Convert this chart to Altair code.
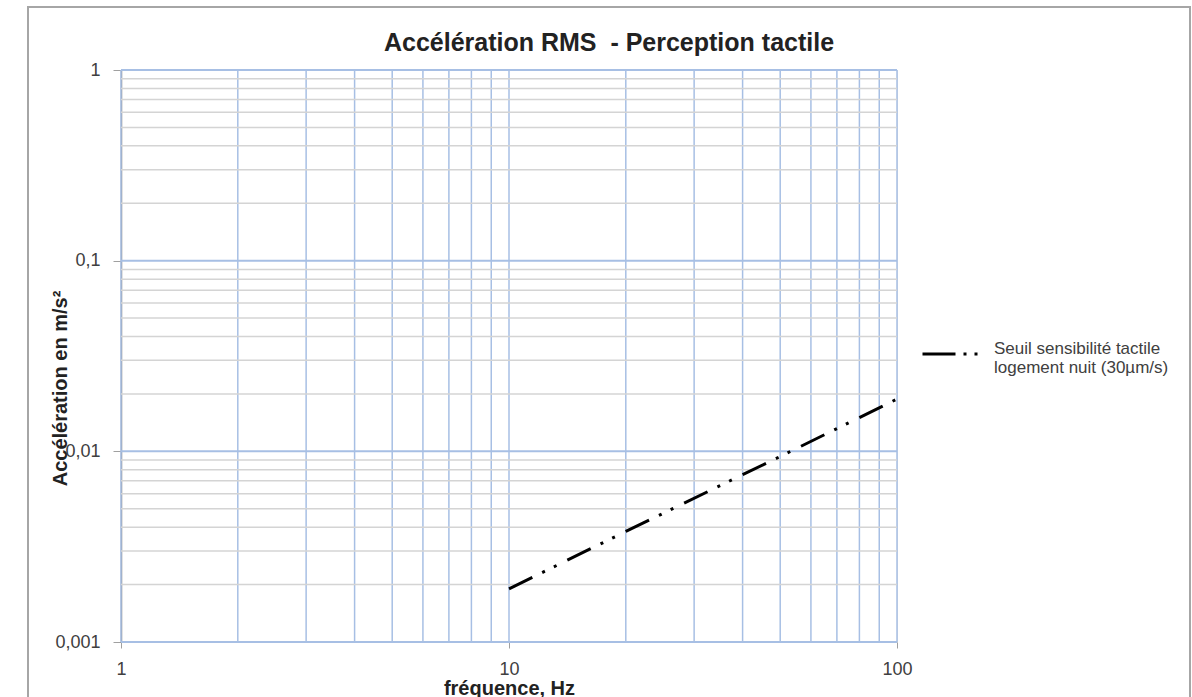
import altair as alt
import pandas as pd

# Series values
freq = [10, 20, 50, 100]
accel = [0.0019, 0.0038, 0.0094, 0.0188]
series_name = "Seuil sensibilité tactile|logement nuit (30µm/s)"

# Axis ticks / grid
x_ticks = [1, 10, 100]
x_grid = [1, 2, 3, 4, 5, 6, 7, 8, 9, 10, 20, 30, 40, 50, 60, 70, 80, 90, 100]
y_ticks = [0.001, 0.01, 0.1, 1]
y_minor = [m * d for d in [0.001, 0.01, 0.1] for m in [2, 3, 4, 5, 6, 7, 8, 9]]

FONT = "Liberation Sans, Arial, sans-serif"
BLUE = "#a7bfe4"
GRAY = "#d4d4d4"

df = pd.DataFrame({"f": freq, "a": accel, "s": [series_name] * len(freq)})

xs = alt.Scale(type="log", domain=[1, 100], nice=False)
ys = alt.Scale(type="log", domain=[0.001, 1], nice=False)

xaxis = alt.Axis(
    values=x_ticks, grid=False, domain=False, ticks=True, tickColor="#a0a0a0",
    tickSize=6, labelPadding=12, labelFontSize=18, labelColor="#404040",
    labelFont=FONT, title="fréquence, Hz", titleFont=FONT, titleFontSize=20,
    titleFontWeight="bold", titleColor="#222222", titleBaseline="middle",
    titleY=46, labelFlush=False,
)
yaxis = alt.Axis(
    values=y_ticks, grid=False, domain=True, domainColor="#8a8a8a",
    domainWidth=1.5, tickColor="#a0a0a0", tickSize=8, labelPadding=13,
    labelFontSize=18, labelColor="#404040", labelFont=FONT,
    labelExpr="replace(format(datum.value, '~g'), '.', ',')",
    title="Accélération en m/s²", titleFont=FONT, titleFontSize=20,
    titleFontWeight="bold", titleColor="#222222", titleX=-61, titleY=318,
    titleAngle=-90, titleBaseline="middle", titleAlign="center",
)

frame = alt.Chart(pd.DataFrame({"k": [0]})).mark_rect(
    filled=False, stroke="#a6a6a6", strokeWidth=2
).encode(
    x=alt.value(-93), x2=alt.value(1069), y=alt.value(-63), y2=alt.value(700)
)

vgrid = alt.Chart(pd.DataFrame({"f": x_grid})).mark_rule(
    color=BLUE, strokeWidth=1.5
).encode(x=alt.X("f:Q", scale=xs, axis=xaxis))

hminor = alt.Chart(pd.DataFrame({"a": y_minor})).mark_rule(
    color=GRAY, strokeWidth=1.5
).encode(y=alt.Y("a:Q", scale=ys, axis=yaxis))

hmajor = alt.Chart(pd.DataFrame({"a": y_ticks})).mark_rule(
    color=BLUE, strokeWidth=2
).encode(y=alt.Y("a:Q", scale=ys, axis=yaxis))

dash = [26, 11, 3, 10, 3, 12]

line = alt.Chart(df).mark_line(
    strokeWidth=3, strokeDash=dash, strokeCap="butt"
).encode(
    x=alt.X("f:Q", scale=xs, axis=xaxis),
    y=alt.Y("a:Q", scale=ys, axis=yaxis),
    color=alt.Color("s:N", scale=alt.Scale(range=["#000000"]), legend=alt.Legend(
        title=None, orient="none", legendX=800, legendY=255,
        symbolType="stroke", symbolSize=3025, symbolStrokeWidth=3,
        symbolDash=[33, 8, 3, 8, 3, 8], labelFont=FONT, labelFontSize=17,
        labelColor="#404040", labelOffset=15, labelLimit=400,
        labelBaseline="alphabetic",
        labelExpr="split(datum.label, '|')",
    )),
)

chart = alt.layer(frame, vgrid, hminor, hmajor, line).properties(
    width=776,
    height=572,
    autosize=alt.AutoSizeParams(type="none"),
    padding={"left": 121, "top": 70, "right": 295, "bottom": 55},
    title=alt.TitleParams(
        "Accélération RMS\u00a0 - Perception tactile", font=FONT, fontSize=25,
        fontWeight="bold", color="#222222", anchor="middle", frame="bounds",
        offset=-62, baseline="middle",
    ),
).configure_view(stroke=None).configure(background="white")

chart.save("out.html", embed_options={"renderer": "svg", "actions": False})
